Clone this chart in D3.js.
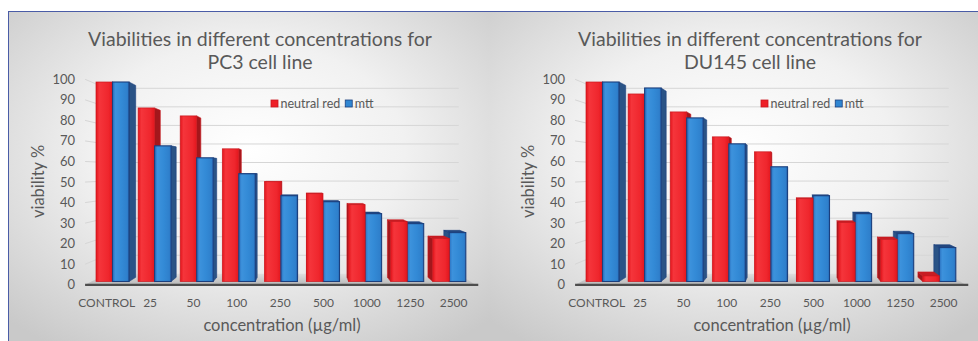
<!DOCTYPE html>
<html>
<head>
<meta charset="utf-8">
<script src="https://cdn.jsdelivr.net/npm/d3@7"></script>
<style>
  html, body { margin: 0; padding: 0; background: #ffffff; }
  svg { display: block; }
  text { font-family: "Lato", "Open Sans", sans-serif; fill: #595959; }
</style>
</head>
<body>
<script>
// Viability (%) per concentration, two assays, two prostate cancer cell lines
const categories = ["CONTROL", "25", "50", "100", "250", "500", "1000", "1250", "2500"];
const seriesNames = ["neutral red", "mtt"];
const pc3NeutralRed = [100, 87, 83, 66.5, 50, 44, 38.5, 30, 21.5];
const pc3Mtt = [100, 68, 62, 54, 43, 40, 34, 29, 24.5];
const du145NeutralRed = [100, 94, 85, 72.5, 65, 41.5, 29.5, 21, 2.8];
const du145Mtt = [100, 97, 82, 69, 57.5, 43, 34, 24, 17];
const yTicks = [0, 10, 20, 30, 40, 50, 60, 70, 80, 90, 100];
const pc3Title = ["Viabilities in different concentrations for", "PC3 cell line"];
const du145Title = ["Viabilities in different concentrations for", "DU145 cell line"];
const xTitle = "concentration (\u00B5g/ml)";
const yTitle = "viability %";

const panels = [
  { title: pc3Title, values: [pc3NeutralRed, pc3Mtt], dx: 0, bgX: 8, bgW: 481 },
  { title: du145Title, values: [du145NeutralRed, du145Mtt], dx: 490, bgX: 489, bgW: 489 }
];

const W = 978, H = 341;
const svg = d3.select("body").append("svg").attr("width", W).attr("height", H);
const defs = svg.append("defs");

// panel background: soft radial shading
const bg = defs.append("radialGradient").attr("id", "panelBg")
  .attr("cx", "50%").attr("cy", "42%").attr("r", "72%");
bg.append("stop").attr("offset", "0").attr("stop-color", "#ffffff");
bg.append("stop").attr("offset", "0.45").attr("stop-color", "#f1f1f1");
bg.append("stop").attr("offset", "1").attr("stop-color", "#c9c9c9");

function hGrad(id, stops) {
  const g = defs.append("linearGradient").attr("id", id)
    .attr("x1", "0").attr("y1", "0").attr("x2", "1").attr("y2", "0");
  stops.forEach(([o, c]) => g.append("stop").attr("offset", o).attr("stop-color", c));
}
hGrad("redFront", [[0, "#e3151c"], [0.2, "#f5353b"], [0.75, "#ef262d"], [1, "#e2161d"]]);
hGrad("blueFront", [[0, "#2a6fbe"], [0.18, "#3d92dc"], [0.55, "#338ad6"], [0.88, "#2f80cc"], [1, "#2a6fbe"]]);

const floorGrad = defs.append("linearGradient").attr("id", "floorGrad")
  .attr("x1", "0").attr("y1", "0").attr("x2", "0").attr("y2", "1");
floorGrad.append("stop").attr("offset", "0").attr("stop-color", "#dedede");
floorGrad.append("stop").attr("offset", "1").attr("stop-color", "#b9b9b9");

const style = {
  "neutral red": { front: "url(#redFront)", stroke: "#c9181e", side: "#a3171c", top: "#c71d23", key: "#ee1f27", keyStroke: "#c9181e" },
  "mtt": { front: "url(#blueFront)", stroke: "#1b3f7d", side: "#2a5386", top: "#22477f", key: "#2f86d2", keyStroke: "#1b3f7d" }
};

// panels background and frame
panels.forEach(p => {
  svg.append("rect").attr("x", p.bgX).attr("y", 11).attr("width", p.bgW).attr("height", H - 11)
    .attr("fill", "url(#panelBg)");
});
svg.append("line").attr("x1", 8).attr("x2", W).attr("y1", 11.5).attr("y2", 11.5)
  .attr("stroke", "#4a5ca6").attr("stroke-width", 1);
svg.append("line").attr("x1", 8.5).attr("x2", 8.5).attr("y1", 11).attr("y2", H)
  .attr("stroke", "#4a5ca6").attr("stroke-width", 1);

// perspective: bar plane is depth 1; walls and axis plane are scaled toward the vanishing point
const VP = { x: 305, y: 172 };
const depth = { axis: 1.03, barBack: 0.962, wall: 0.93 };
const proj = (px, py, r) => [VP.x + (px - VP.x) * r, VP.y + (py - VP.y) * r];

const x = d3.scaleBand().domain(categories).range([91.5, 470.3]).paddingInner(0.216).paddingOuter(0.107);
const xs = d3.scaleBand().domain(seriesNames).range([0, x.bandwidth()]);
const y = d3.scaleLinear().domain([0, 100]).range([281.5, 82]);
const [xL, xR] = x.range();
const line = d3.line();

panels.forEach(p => {
  const g = svg.append("g").attr("transform", `translate(${p.dx},0)`);

  // title
  const t = g.append("text").attr("text-anchor", "middle").attr("font-size", 19.5);
  p.title.forEach((s, i) => t.append("tspan").attr("x", 260).attr("y", 46 + i * 23).text(s));

  // floor
  const y0 = y(0);
  g.append("path")
    .attr("d", line([proj(xL, y0, depth.axis), proj(xR, y0, depth.axis), proj(xR, y0, depth.wall), proj(xL, y0, depth.wall)]) + "Z")
    .attr("fill", "url(#floorGrad)");

  // gridlines on the side and back walls
  yTicks.filter(v => v > 0).forEach(v => {
    g.append("path")
      .attr("d", line([proj(xL, y(v), depth.axis), proj(xL, y(v), depth.wall), proj(xR, y(v), depth.wall)]))
      .attr("fill", "none").attr("stroke", "#d6d6d6").attr("stroke-width", 1);
  });

  // y tick labels on the front plane
  g.selectAll(".ytick").data(yTicks).join("text")
    .attr("x", proj(xL, 0, depth.axis)[0] - 10)
    .attr("y", v => proj(xL, y(v), depth.axis)[1])
    .attr("dy", "0.35em").attr("text-anchor", "end").attr("font-size", 13)
    .text(v => v);

  // legend
  const lg = g.append("g").attr("transform", "translate(271,100)");
  let lx = 0;
  seriesNames.forEach(name => {
    lg.append("rect").attr("x", lx).attr("y", 0).attr("width", 7).attr("height", 7)
      .attr("fill", style[name].key).attr("stroke", style[name].keyStroke).attr("stroke-width", 0.8);
    const tx = lg.append("text").attr("x", lx + 9.5).attr("y", 7.5).attr("font-size", 12.5).text(name);
    lx += 9.5 + tx.node().getComputedTextLength() + 5;
  });

  // bars, drawn from farthest to nearest relative to the vanishing point
  const bars = [];
  categories.forEach((c, ci) => {
    seriesNames.forEach((s, si) => {
      const x0 = x(c) + xs(s), x1 = x0 + xs.bandwidth();
      bars.push({ c, s, v: p.values[si][ci], x0, x1 });
    });
  });
  bars.sort((a, b) => Math.abs((b.x0 + b.x1) / 2 - VP.x) - Math.abs((a.x0 + a.x1) / 2 - VP.x));

  bars.forEach(b => {
    const st = style[b.s];
    const yt = y(b.v), yb = y(0);
    const rb = depth.barBack;
    const cx = (b.x0 + b.x1) / 2;
    const xe = cx < VP.x ? b.x1 : b.x0;
    // side face
    g.append("path")
      .attr("d", line([proj(xe, yt, 1), proj(xe, yt, rb), proj(xe, yb, rb), proj(xe, yb, 1)]) + "Z")
      .attr("fill", st.side).attr("stroke", st.stroke).attr("stroke-width", 0.6);
    // top face, visible below the horizon
    if (yt > VP.y) {
      g.append("path")
        .attr("d", line([proj(b.x0, yt, 1), proj(b.x1, yt, 1), proj(b.x1, yt, rb), proj(b.x0, yt, rb)]) + "Z")
        .attr("fill", st.top).attr("stroke", st.stroke).attr("stroke-width", 0.6);
    }
    // front face
    g.append("rect").attr("x", b.x0).attr("y", yt).attr("width", b.x1 - b.x0).attr("height", yb - yt)
      .attr("fill", st.front).attr("stroke", st.stroke).attr("stroke-width", b.s === "mtt" ? 1.1 : 0.7);
  });

  // front axis line
  const fl = proj(xL, y0, depth.axis), fr = proj(xR, y0, depth.axis);
  g.append("line").attr("x1", fl[0]).attr("x2", fr[0] + 3).attr("y1", fl[1]).attr("y2", fl[1])
    .attr("stroke", "#4d4d4d").attr("stroke-width", 2.2);

  // category labels
  g.selectAll(".xtick").data(categories).join("text")
    .attr("x", c => proj(x(c) + x.bandwidth() / 2, y0, depth.axis)[0])
    .attr("y", 306.5).attr("text-anchor", "middle").attr("font-size", 12)
    .text(c => c);

  // axis titles
  g.append("text").attr("x", 282).attr("y", 331).attr("text-anchor", "middle")
    .attr("font-size", 16.5).text(xTitle);
  g.append("text").attr("transform", "translate(44,181.5) rotate(-90)")
    .attr("text-anchor", "middle").attr("font-size", 16.5).text(yTitle);
});
</script>
</body>
</html>
